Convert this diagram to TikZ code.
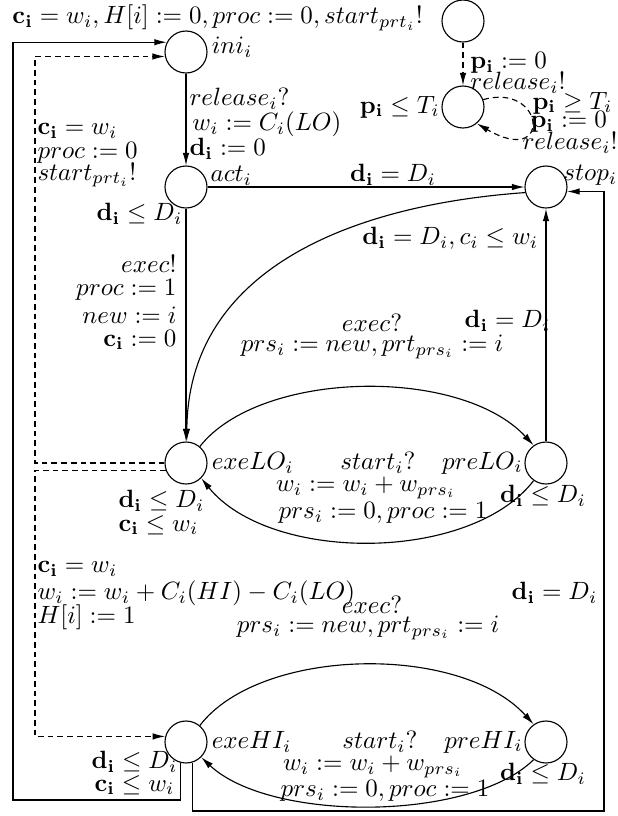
\documentclass[tikz,border=0pt]{standalone}
\usetikzlibrary{arrows.meta}
\begin{document}
\begin{tikzpicture}[x=0.40pt,y=-0.40pt,
  loc/.style={circle,draw,line width=0.45pt,minimum size=16.8pt,inner sep=0pt},
  lbl/.style={inner sep=0pt},
  edge/.style={-{Latex[length=5pt,width=2.6pt]},line width=0.45pt},
  dedge/.style={edge,dash pattern=on 2.3pt off 1.6pt}]
\useasboundingbox (0,0) rectangle (618,816);

% locations
\node[loc] (gen) at (463,21) {};
\node[loc] (rel) at (463,107) {};
\node[loc] (ini) at (186,52) {};
\node[loc] (act) at (186,187) {};
\node[loc] (stop) at (546,187) {};
\node[loc] (exeLO) at (186,463) {};
\node[loc] (preLO) at (546,463) {};
\node[loc] (exeHI) at (186,742) {};
\node[loc] (preHI) at (546,742) {};

% location names
\node[lbl,anchor=west] (nini) at ([xshift=1.5pt,yshift=2pt]ini.east) {$ini_i$};
\node[lbl,anchor=west] (nact) at ([xshift=1pt,yshift=4.5pt]act.east) {$act_i$};
\node[lbl,anchor=west] (nstop) at (563,175) {$stop_i$};
\node[lbl,anchor=west] (nexeLO) at ([xshift=1.5pt]exeLO.east) {$exeLO_i$};
\node[lbl,anchor=east] (npreLO) at ([xshift=-0.5pt]preLO.west) {$preLO_i$};
\node[lbl,anchor=west] (nexeHI) at ([xshift=1.5pt]exeHI.east) {$exeHI_i$};
\node[lbl,anchor=east] (npreHI) at ([xshift=-0.5pt]preHI.west) {$preHI_i$};
\node[lbl,anchor=east] (nrel) at ([xshift=-0.5pt]rel.west) {$\mathbf{p_i}\leq T_i$};

% generator
\draw[dedge] (gen) -- (rel);
\node[lbl,anchor=west] (g1) at (470,63) {$\mathbf{p_i} := 0$};
\node[lbl,anchor=west] (g2) at (470,83) {$release_i!$};
\draw[dedge] (rel.20) .. controls (545,82) and (553,168) .. (rel.-50);
\node[lbl,anchor=west] (l1) at (532,103) {$\mathbf{p_i}\geq T_i$};
\node[lbl,anchor=west] (l2) at (530,122) {$\mathbf{p_i} := 0$};
\node[lbl,anchor=west] (l3) at (522,143) {$release_i!$};

% ini -> act
\draw[edge] (ini) -- (act);
\node[lbl,anchor=west] (a1) at (189,99) {$release_i?$};
\node[lbl,anchor=west] (a2) at (192,124) {$w_i := C_i(LO)$};
\node[lbl,anchor=west] (a3) at (189,149) {$\mathbf{d_i} := 0$};

% act invariant
\node[lbl,anchor=east] (iact) at (183,214) {$\mathbf{d_i}\leq D_i$};

% act -> stop
\draw[edge] (act) -- (stop);
\node[lbl] (as) at (393,175) {$\mathbf{d_i} = D_i$};

% act -> exeLO
\draw[edge] (act) -- (exeLO);
\node[lbl,anchor=east] (e1) at (177,264) {$exec!$};
\node[lbl,anchor=east] (e2) at (177,290) {$proc := 1$};
\node[lbl,anchor=east] (e3) at (177,315) {$new := i$};
\node[lbl,anchor=east] (e4) at (177,340) {$\mathbf{c_i} := 0$};

% stop -> exeLO (curve)
\draw[edge] (stop.195) .. controls (350,205) and (188,270) .. (exeLO.88);
\node[lbl,anchor=west] (sl) at (362,238) {$\mathbf{d_i} = D_i, c_i\leq w_i$};

% preLO -> stop
\draw[edge] (preLO) -- (stop);
\node[lbl,anchor=east] (ps) at (551,321) {$\mathbf{d_i} = D_i$};

% exeLO -> preLO
\draw[edge] (exeLO.50) .. controls (260,370) and (460,366) .. (preLO.125);
\node[lbl] (x1) at (372,323) {$exec?$};
\node[lbl] (x2) at (372,347) {$prs_i := new, prt_{prs_i} := i$};

% preLO -> exeLO
\draw[edge] (preLO.235) .. controls (470,563) and (270,563) .. (exeLO.-45);
\node[lbl] (sLO) at (378,463) {$start_i?$};
\node[lbl] (y1) at (366,488) {$w_i := w_i + w_{prs_i}$};
\node[lbl] (y2) at (383,513) {$prs_i := 0, proc := 1$};
\node[lbl] (ipreLO) at (543,496) {$\mathbf{d_i}\leq D_i$};
\node[lbl,anchor=west] (iexLO1) at (118,501) {$\mathbf{d_i}\leq D_i$};
\node[lbl,anchor=west] (iexLO2) at (118,525) {$\mathbf{c_i}\leq w_i$};

% dashed exeLO -> ini
\draw[dedge] (exeLO.180) -| (35,300) |- (ini.192);
\node[lbl,anchor=west] (d1) at (37,131) {$\mathbf{c_i} = w_i$};
\node[lbl,anchor=west] (d2) at (37,153) {$proc := 0$};
\node[lbl,anchor=west] (d3) at (37,175) {$start_{prt_i}!$};

% dashed exeLO -> exeHI
\draw[dedge] (exeLO.200) -| (35,600) |- (exeHI.165);
\node[lbl,anchor=west] (h1) at (37,569) {$\mathbf{c_i} = w_i$};
\node[lbl,anchor=west] (h2) at (37,593) {$w_i := w_i + C_i(HI) - C_i(LO)$};
\node[lbl,anchor=west] (h3) at (37,617) {$H[i] := 1$};

% exeHI -> preHI
\draw[edge] (exeHI.50) .. controls (260,647) and (460,643) .. (preHI.125);
\node[lbl] (z1) at (372,605) {$exec?$};
\node[lbl] (z2) at (368,628) {$prs_i := new, prt_{prs_i} := i$};

% preHI -> exeHI
\draw[edge] (preHI.235) .. controls (470,822) and (270,822) .. (exeHI.-45);
\node[lbl] (sHI) at (380,742) {$start_i?$};
\node[lbl] (v1) at (373,767) {$w_i := w_i + w_{prs_i}$};
\node[lbl] (v2) at (385,791) {$prs_i := 0, proc := 1$};
\node[lbl] (ipreHI) at (543,774) {$\mathbf{d_i}\leq D_i$};
\node[lbl,anchor=east] (iexHI1) at (178,762) {$\mathbf{d_i}\leq D_i$};
\node[lbl,anchor=east] (iexHI2) at (175,785) {$\mathbf{c_i}\leq w_i$};

% exeHI -> ini (outer left frame)
\draw[edge] (exeHI.255) |- (13,800) |- (ini.153);
\node[lbl,anchor=west] (top) at (12,18) {$\mathbf{c_i} = w_i, H[i] := 0, proc := 0, start_{prt_i}!$};

% exeHI -> stop (outer right frame)
\draw[edge] (exeHI.288) |- (604,811) |- (stop.-12);
\node[lbl,anchor=east] (rs) at (598,593) {$\mathbf{d_i} = D_i$};
\end{tikzpicture}
\end{document}
